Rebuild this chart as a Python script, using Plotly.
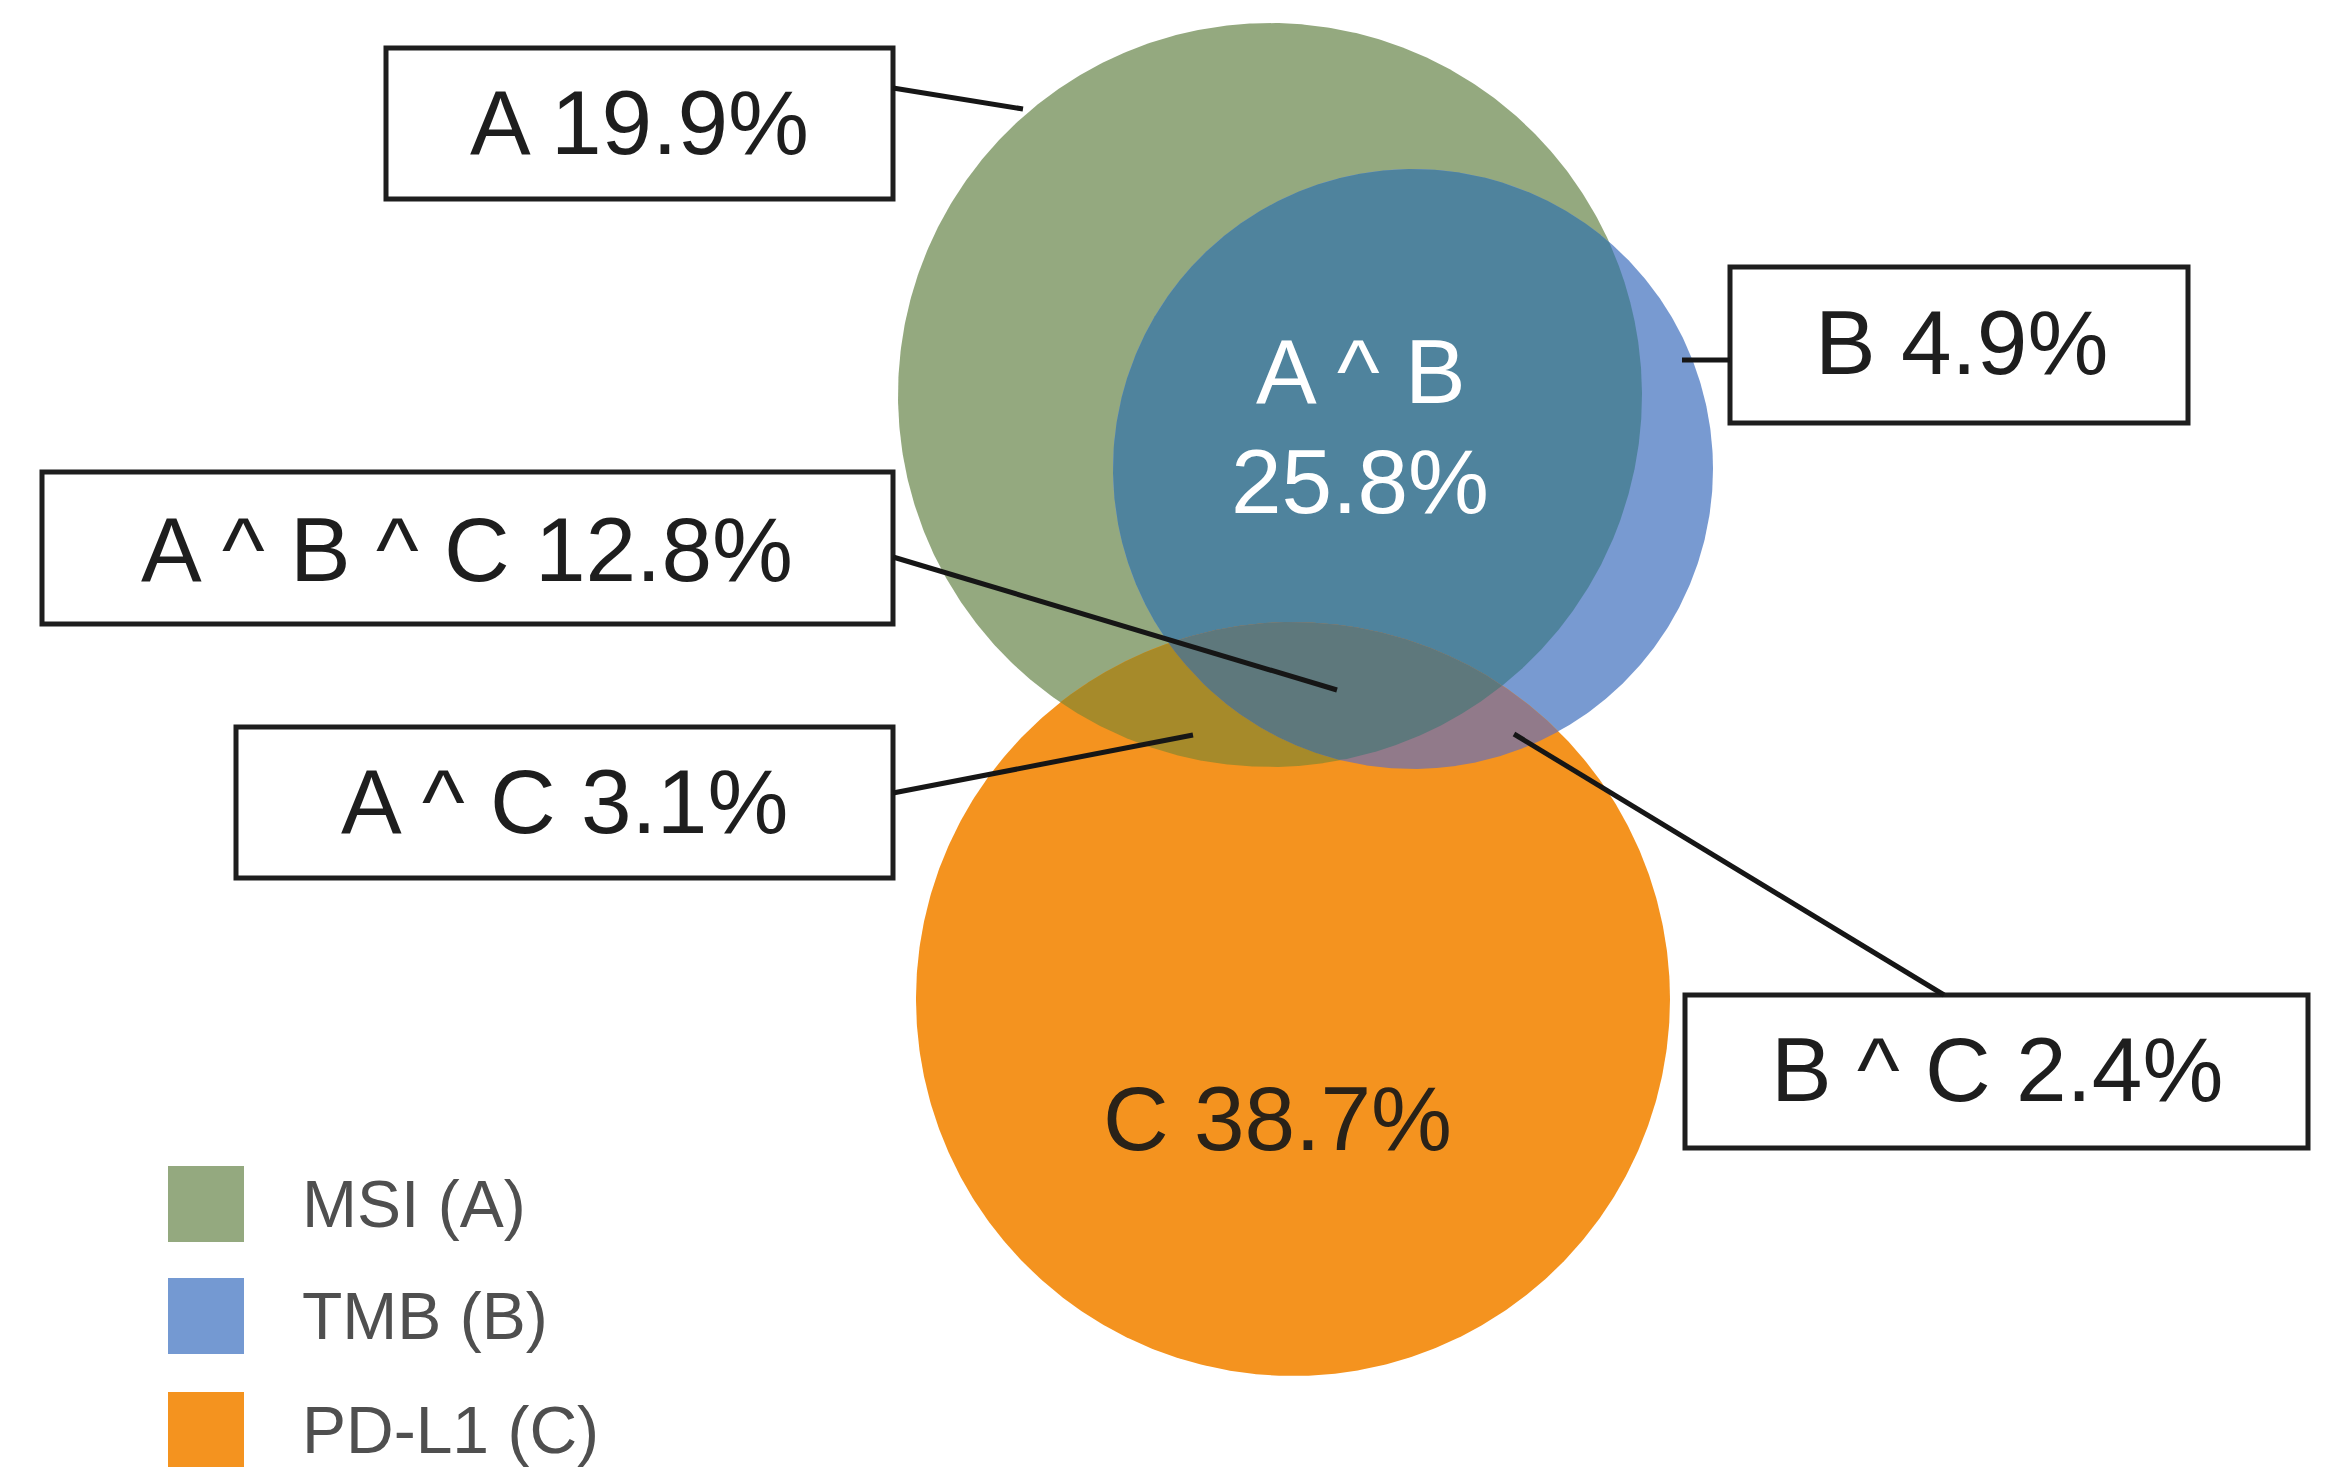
import numpy as np
import plotly.graph_objects as go

# ---- data -------------------------------------------------------------
set_names = ["MSI (A)", "TMB (B)", "PD-L1 (C)"]
region_names = ["A", "B", "C", "A ^ B", "A ^ C", "B ^ C", "A ^ B ^ C"]
region_pct = [19.9, 4.9, 38.7, 25.8, 3.1, 2.4, 12.8]

# ---- layout geometry (canvas units, y grows downward) -----------------
W, H = 2342, 1467
circles = {                     # centre x, centre y, radius
    "A": (1270, 395, 372),
    "B": (1413, 469, 300),
    "C": (1293, 999, 377),
}
region_colors = {
    "A": "#94A97F",
    "B": "#789AD1",
    "C": "#F4931F",
    "A ^ B": "#4F839D",
    "A ^ C": "#A68A2A",
    "B ^ C": "#917A8A",
    "A ^ B ^ C": "#5E787C",
}
legend_colors = ["#94A97F", "#7499D2", "#F4931F"]

# callout boxes: x0, y0, x1, y1, text x, text y, leader line (x0, y0, x1, y1)
callouts = {
    "A":         ((386, 48, 893, 199),    (639, 122),  (893, 88, 1023, 109)),
    "B":         ((1730, 267, 2188, 423), (1961, 342), (1682, 360, 1730, 360)),
    "A ^ B ^ C": ((42, 472, 893, 624),    (467, 549),  (893, 557, 1337, 690)),
    "A ^ C":     ((236, 727, 893, 878),   (564, 801),  (893, 793, 1193, 735)),
    "B ^ C":     ((1685, 995, 2308, 1148), (1997, 1069), (1944, 995, 1514, 734)),
}
inside_labels = {               # labels drawn straight on the regions
    "A ^ B": [(1361, 371), (1360, 481)],
    "C": [(1277, 1118)],
}
FONT = "Liberation Sans, Arial, Helvetica, sans-serif"
TXT = 91


def circle_xy(cx, cy, r, n=720):
    t = np.linspace(0, 2 * np.pi, n)
    return cx + r * np.cos(t), cy + r * np.sin(t)


def intersection_xy(keys, n=4000):
    """Boundary of the (convex) intersection of several circles."""
    pts = []
    for k in keys:
        cx, cy, r = circles[k]
        t = np.linspace(0, 2 * np.pi, n, endpoint=False)
        x, y = cx + r * np.cos(t), cy + r * np.sin(t)
        keep = np.ones_like(x, dtype=bool)
        for o in keys:
            if o == k:
                continue
            ox, oy, orad = circles[o]
            keep &= (x - ox) ** 2 + (y - oy) ** 2 <= orad ** 2 + 1e-6
        pts.append(np.column_stack([x[keep], y[keep]]))
    p = np.vstack(pts)
    c = p.mean(axis=0)
    order = np.argsort(np.arctan2(p[:, 1] - c[1], p[:, 0] - c[0]))
    p = p[order]
    p = np.vstack([p, p[:1]])
    return p[:, 0], p[:, 1]


fig = go.Figure()

# base circles
for k in ["A", "B", "C"]:
    x, y = circle_xy(*circles[k])
    fig.add_trace(go.Scatter(x=x, y=y, mode="lines", fill="toself",
                             fillcolor=region_colors[k], line=dict(width=0),
                             hoverinfo="skip", showlegend=False))

# overlaps
for name in ["A ^ B", "A ^ C", "B ^ C", "A ^ B ^ C"]:
    keys = name.split(" ^ ")
    x, y = intersection_xy(keys)
    fig.add_trace(go.Scatter(x=x, y=y, mode="lines", fill="toself",
                             fillcolor=region_colors[name], line=dict(width=0),
                             hoverinfo="skip", showlegend=False))

shapes = []
annotations = []
pct = dict(zip(region_names, region_pct))

# callout boxes with leader lines
for name, (box, tpos, lead) in callouts.items():
    shapes.append(dict(type="rect", xref="x", yref="y",
                       x0=box[0], y0=box[1], x1=box[2], y1=box[3],
                       line=dict(color="#1E1E1E", width=5),
                       fillcolor="white", layer="above"))
    shapes.append(dict(type="line", xref="x", yref="y",
                       x0=lead[0], y0=lead[1], x1=lead[2], y1=lead[3],
                       line=dict(color="#161616", width=5), layer="above"))
    annotations.append(dict(x=tpos[0], y=tpos[1], xref="x", yref="y",
                            text=f"{name} {pct[name]}%", showarrow=False,
                            xanchor="center", yanchor="middle",
                            font=dict(family=FONT, size=TXT, color="#1E1E1E")))

# labels inside the diagram
ab = inside_labels["A ^ B"]
annotations.append(dict(x=ab[0][0], y=ab[0][1], xref="x", yref="y", text="A ^ B",
                        showarrow=False, xanchor="center", yanchor="middle",
                        font=dict(family=FONT, size=TXT, color="white")))
annotations.append(dict(x=ab[1][0], y=ab[1][1], xref="x", yref="y",
                        text=f"{pct['A ^ B']}%", showarrow=False,
                        xanchor="center", yanchor="middle",
                        font=dict(family=FONT, size=TXT, color="white")))
cpos = inside_labels["C"][0]
annotations.append(dict(x=cpos[0], y=cpos[1], xref="x", yref="y",
                        text=f"C {pct['C']}%", showarrow=False,
                        xanchor="center", yanchor="middle",
                        font=dict(family=FONT, size=TXT, color="#2A2218")))

# legend: coloured squares with set names
legend_y = [1204, 1316, 1430]
fig.add_trace(go.Scatter(x=[206] * 3, y=legend_y, mode="markers",
                         marker=dict(symbol="square", size=76, color=legend_colors,
                                     line=dict(width=0)),
                         hoverinfo="skip", showlegend=False))
for name, yy in zip(set_names, legend_y):
    annotations.append(dict(x=300, y=yy, xref="x", yref="y", text=name,
                            showarrow=False, xanchor="left", yanchor="middle",
                            font=dict(family=FONT, size=66, color="#4F4F4F")))

fig.update_layout(
    width=W, height=H,
    margin=dict(l=0, r=0, t=0, b=0),
    paper_bgcolor="white", plot_bgcolor="white",
    xaxis=dict(range=[0, W], visible=False, fixedrange=True),
    yaxis=dict(range=[H, 0], visible=False, fixedrange=True),
    shapes=shapes, annotations=annotations,
    showlegend=False,
)

fig.write_html("out.html")
